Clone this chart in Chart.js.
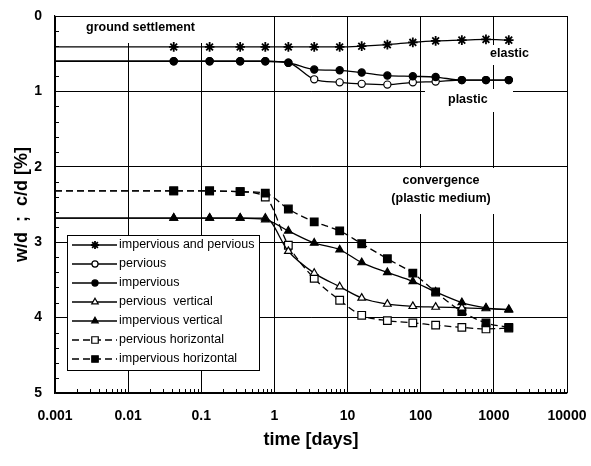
<!DOCTYPE html>
<html>
<head>
<meta charset="utf-8">
<script src="https://cdn.jsdelivr.net/npm/chart.js@4.4.1/dist/chart.umd.min.js"></script>
<style>
  body { margin: 0; background: #fff; }
  #wrap { width: 591px; height: 466px; }
</style>
</head>
<body>
<div id="wrap"><canvas id="chart"></canvas></div>
<script>
// time of each reading [days], first entry is the left edge start
const days = [0.001, 0.042, 0.13, 0.34, 0.75, 1.55, 3.5, 7.8, 15.6, 35, 78, 160, 365, 780, 1600];

// ground settlement w/d [%]
const settleBoth       = [0.41, 0.41, 0.41, 0.41, 0.41, 0.41, 0.41, 0.41, 0.40, 0.38, 0.35, 0.33, 0.32, 0.31, 0.32];
const settlePervious   = [0.60, 0.60, 0.60, 0.60, 0.60, 0.62, 0.84, 0.88, 0.90, 0.91, 0.88, 0.87, 0.85, 0.85, 0.85];
const settleImpervious = [0.60, 0.60, 0.60, 0.60, 0.60, 0.62, 0.71, 0.72, 0.75, 0.79, 0.80, 0.81, 0.85, 0.85, 0.85];

// convergence c/d [%]
const convPervVert   = [2.68, 2.68, 2.68, 2.68, 2.68, 3.12, 3.41, 3.59, 3.74, 3.82, 3.85, 3.86, 3.87, 3.88, 3.89];
const convImpervVert = [2.68, 2.68, 2.68, 2.68, 2.70, 2.85, 3.01, 3.10, 3.27, 3.40, 3.52, 3.66, 3.80, 3.87, 3.90];
const convPervHor    = [2.32, 2.32, 2.32, 2.33, 2.40, 3.04, 3.48, 3.77, 3.97, 4.04, 4.07, 4.10, 4.13, 4.15, 4.14];
const convImpervHor  = [2.32, 2.32, 2.32, 2.33, 2.35, 2.56, 2.73, 2.85, 3.02, 3.22, 3.41, 3.66, 3.92, 4.07, 4.13];

const xTickValues = [0.001, 0.01, 0.1, 1, 10, 100, 1000, 10000];
const xTickLabels = ['0.001', '0.01', '0.1', '1', '10', '100', '1000', '10000'];

const seriesNames = ['impervious and pervious', 'pervious', 'impervious', 'pervious  vertical',
  'impervious vertical', 'pervious horizontal', 'impervious horizontal'];

function pts(values) {
  return values.map((v, i) => ({ x: days[i], y: v }));
}
// no marker on the start point at the axis edge
const radii = (r) => days.map((d, i) => i === 0 ? 0 : r);

function series(name, values, style, fill, r, dashed, order, pbw) {
  return {
    label: name,
    data: pts(values),
    borderColor: '#000',
    borderWidth: 1.3,
    borderDash: dashed ? [7, 4] : [],
    pointStyle: style,
    pointRadius: radii(r),
    pointBackgroundColor: fill,
    pointBorderColor: '#000',
    pointBorderWidth: pbw || 1.2,
    cubicInterpolationMode: 'monotone',
    order: order
  };
}

const datasets = [
  series(seriesNames[0], settleBoth, 'star', '#000', 4.8, false, 0, 1.8),
  series(seriesNames[1], settlePervious, 'circle', '#fff', 3.6, false, 2),
  series(seriesNames[2], settleImpervious, 'circle', '#000', 3.6, false, 1),
  series(seriesNames[3], convPervVert, 'triangle', '#fff', 4.4, false, 4),
  series(seriesNames[4], convImpervVert, 'triangle', '#000', 4.4, false, 3),
  series(seriesNames[5], convPervHor, 'rect', '#fff', 5.4, true, 6),
  series(seriesNames[6], convImpervHor, 'rect', '#000', 5.4, true, 5)
];

const BOLD = 'bold 12.5px "Liberation Sans", Arial, sans-serif';

// labels placed on the plot, with white boxes behind them
const notes = [
  { box: [57, 17, 205, 26], lines: ['ground settlement'], x: 86, y: 28, align: 'left' },
  { box: [486, 45, 48, 20], lines: ['elastic'], x: 490, y: 54, align: 'left' },
  { box: [425, 89, 88, 23], lines: ['plastic'], x: 448, y: 100, align: 'left' },
  { box: [385, 168, 116, 46], lines: ['convergence', '(plastic medium)'], x: 441, y: 181, align: 'center' }
];

const notesPlugin = {
  id: 'notes',
  beforeDatasetsDraw(chart) {
    const ctx = chart.ctx;
    ctx.save();
    notes.forEach(n => {
      ctx.fillStyle = '#fff';
      ctx.fillRect(n.box[0], n.box[1], n.box[2], n.box[3]);
      ctx.fillStyle = '#000';
      ctx.font = BOLD;
      ctx.textAlign = n.align;
      ctx.textBaseline = 'middle';
      n.lines.forEach((t, i) => ctx.fillText(t, n.x, n.y + i * 18));
    });
    ctx.restore();
  }
};

const minorTicks = {
  id: 'minorTicks',
  afterDraw(chart) {
    const ctx = chart.ctx;
    const xs = chart.scales.x, ys = chart.scales.y;
    const a = chart.chartArea;
    ctx.save();
    ctx.strokeStyle = '#000';
    ctx.lineWidth = 1;
    ctx.beginPath();
    for (let d = 0.001; d < 5000; d *= 10) {
      for (let k = 2; k <= 9; k++) {
        const x = Math.round(xs.getPixelForValue(d * k)) + 0.5;
        ctx.moveTo(x, a.bottom);
        ctx.lineTo(x, a.bottom - 4);
      }
    }
    for (let i = 1; i < 25; i++) {
      if (i % 5 === 0) continue;
      const y = Math.round(ys.getPixelForValue(i / 5)) + 0.5;
      ctx.moveTo(a.left, y);
      ctx.lineTo(a.left + 4, y);
    }
    ctx.stroke();
    ctx.restore();
  }
};

const boxLegend = {
  id: 'boxLegend',
  afterDraw(chart) {
    const ctx = chart.ctx;
    const left = 67, top = 235, w = 192, h = 135;
    ctx.save();
    ctx.fillStyle = '#fff';
    ctx.fillRect(left, top, w, h);
    ctx.strokeStyle = '#000';
    ctx.lineWidth = 1;
    ctx.strokeRect(left + 0.5, top + 0.5, w, h);
    chart.data.datasets.forEach((ds, i) => {
      const y = top + 10 + i * 19;
      ctx.strokeStyle = '#000';
      ctx.lineWidth = ds.borderWidth;
      ctx.setLineDash(ds.borderDash);
      ctx.beginPath();
      ctx.moveTo(left + 5, y);
      ctx.lineTo(left + 50, y);
      ctx.stroke();
      ctx.setLineDash([]);
      ctx.fillStyle = ds.pointBackgroundColor;
      ctx.lineWidth = ds.pointBorderWidth;
      Chart.helpers.drawPoint(ctx, {
        pointStyle: ds.pointStyle, radius: ds.pointRadius[1] * 0.85,
        rotation: 0, borderWidth: ds.pointBorderWidth
      }, left + 28, y);
      ctx.fillStyle = '#000';
      ctx.font = '12.5px "Liberation Sans", Arial, sans-serif';
      ctx.textAlign = 'left';
      ctx.textBaseline = 'middle';
      ctx.fillText(ds.label, left + 52, y);
    });
    ctx.restore();
  }
};

const ctx = document.getElementById('chart').getContext('2d');
new Chart(ctx, {
  type: 'line',
  data: { datasets: datasets },
  plugins: [notesPlugin, minorTicks, boxLegend],
  options: {
    responsive: true,
    maintainAspectRatio: false,
    animation: false,
    layout: { padding: { top: 16, right: 24, left: 0, bottom: 0 } },
    plugins: { legend: { display: false }, tooltip: { enabled: false } },
    scales: {
      x: {
        type: 'logarithmic',
        min: 0.001,
        max: 10000,
        afterBuildTicks(scale) {
          scale.ticks = xTickValues.map(v => ({ value: v, major: true }));
        },
        afterFit(scale) { scale.height = 73; },
        ticks: {
          autoSkip: false,
          maxRotation: 0,
          padding: 0,
          color: '#000',
          font: { family: '"Liberation Sans", Arial, sans-serif', size: 14, weight: 'bold' },
          callback: (v) => xTickLabels[xTickValues.indexOf(v)] || ''
        },
        grid: { color: '#000', lineWidth: 1, drawTicks: true, tickLength: 15, tickColor: 'rgba(0,0,0,0)' },
        border: { color: '#000', width: 1.2 },
        title: {
          display: true,
          text: 'time [days]',
          color: '#000',
          padding: { top: 0, bottom: 15 },
          font: { family: '"Liberation Sans", Arial, sans-serif', size: 18, weight: 'bold' }
        }
      },
      y: {
        reverse: true,
        min: 0,
        max: 5,
        afterFit(scale) { scale.width = 55; },
        ticks: {
          stepSize: 1,
          padding: 0,
          color: '#000',
          font: { family: '"Liberation Sans", Arial, sans-serif', size: 14, weight: 'bold' }
        },
        grid: { color: '#000', lineWidth: 1, drawTicks: true, tickLength: 13, tickColor: 'rgba(0,0,0,0)' },
        border: { color: '#000', width: 1.2 },
        title: {
          display: true,
          text: 'w/d  ;  c/d [%]',
          color: '#000',
          padding: { top: 11, bottom: 0 },
          font: { family: '"Liberation Sans", Arial, sans-serif', size: 18, weight: 'bold' }
        }
      }
    }
  }
});
</script>
</body>
</html>
